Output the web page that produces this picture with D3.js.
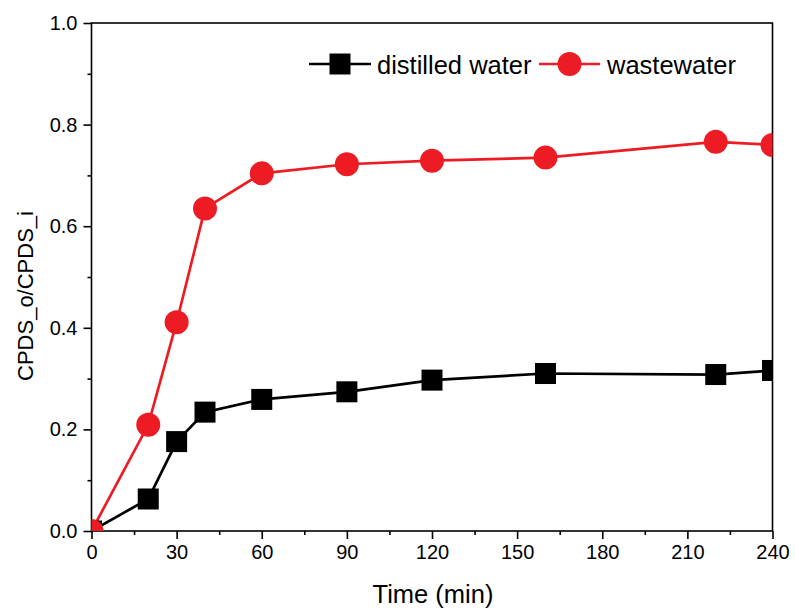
<!DOCTYPE html>
<html>
<head>
<meta charset="utf-8">
<script src="https://cdn.jsdelivr.net/npm/d3@7/dist/d3.min.js"></script>
<style>
  html, body { margin: 0; padding: 0; background: #fff; }
  svg { display: block; font-family: "Liberation Sans", Arial, sans-serif; }
</style>
</head>
<body>
<svg id="chart" width="795" height="612"></svg>
<script>
// ---- data ----
const times = [0, 20, 30, 40, 60, 90, 120, 160, 220, 240];
const distilledWater = [0.0, 0.063, 0.176, 0.234, 0.259, 0.274, 0.297, 0.310, 0.308, 0.316];
const wastewater = [0.0, 0.209, 0.411, 0.635, 0.704, 0.722, 0.729, 0.735, 0.766, 0.760];
const xTicks = [0, 30, 60, 90, 120, 150, 180, 210, 240];
const yTicks = [0.0, 0.2, 0.4, 0.6, 0.8, 1.0];
const seriesNames = ["distilled water", "wastewater"];

// ---- layout ----
const svg = d3.select("#chart");
const pL = 91.5, pR = 772.5, pT = 23, pB = 531;
const x = d3.scaleLinear().domain([0, 240]).range([pL, pR]);
const y = d3.scaleLinear().domain([0, 1]).range([pB, pT]);
const red = "#ED1C24";

svg.append("defs").append("clipPath").attr("id", "clip")
  .append("rect").attr("x", pL).attr("y", pT).attr("width", pR - pL).attr("height", pB - pT);

const xAxis = d3.axisBottom(x).tickValues(xTicks).tickSize(8).tickPadding(6).tickFormat(d3.format("d"));
const xMinor = d3.axisBottom(x).tickValues(d3.range(15, 240, 30)).tickSize(4).tickFormat("");
const yAxis = d3.axisLeft(y).tickValues(yTicks).tickSize(8).tickPadding(6).tickFormat(d3.format(".1f"));
const yMinor = d3.axisLeft(y).tickValues(d3.range(0.1, 1.0, 0.2)).tickSize(4).tickFormat("");

function style(g) {
  g.select(".domain").remove();
  g.selectAll("line").attr("stroke", "#000").attr("stroke-width", 1.6);
  g.selectAll("text").attr("font-size", 20).attr("fill", "#000").attr("font-family", "Liberation Sans, Arial, sans-serif");
}
svg.append("g").attr("transform", `translate(0,${pB})`).call(xAxis).call(style);
svg.append("g").attr("transform", `translate(0,${pB})`).call(xMinor).call(style);
svg.append("g").attr("transform", `translate(${pL},0)`).call(yAxis).call(style);
svg.append("g").attr("transform", `translate(${pL},0)`).call(yMinor).call(style);

svg.append("rect").attr("x", pL).attr("y", pT).attr("width", pR - pL).attr("height", pB - pT)
  .attr("fill", "none").attr("stroke", "#000").attr("stroke-width", 1.6);

svg.append("text").attr("x", 433).attr("y", 603).attr("text-anchor", "middle")
  .attr("font-size", 25.5).text("Time (min)");
svg.append("text").attr("transform", "translate(33,296) rotate(-90)").attr("text-anchor", "middle")
  .attr("font-size", 22).text("CPDS_o/CPDS_i");

const plot = svg.append("g").attr("clip-path", "url(#clip)");
const line = d3.line().x((d, i) => x(times[i])).y(d => y(d));

plot.append("path").datum(distilledWater).attr("d", line)
  .attr("fill", "none").attr("stroke", "#000").attr("stroke-width", 2.7);
plot.append("path").datum(wastewater).attr("d", line)
  .attr("fill", "none").attr("stroke", red).attr("stroke-width", 2.7);

const sq = 21;
plot.selectAll("rect.dw").data(distilledWater).enter().append("rect")
  .attr("x", (d, i) => x(times[i]) - sq / 2).attr("y", d => y(d) - sq / 2)
  .attr("width", sq).attr("height", sq).attr("fill", "#000");
plot.selectAll("circle.ww").data(wastewater).enter().append("circle")
  .attr("cx", (d, i) => x(times[i])).attr("cy", d => y(d)).attr("r", 12).attr("fill", red);

const lg = svg.append("g");
const ly = 64;
lg.append("line").attr("x1", 309).attr("x2", 371).attr("y1", ly).attr("y2", ly).attr("stroke", "#000").attr("stroke-width", 2.7);
lg.append("rect").attr("x", 340 - sq / 2).attr("y", ly - sq / 2).attr("width", sq).attr("height", sq).attr("fill", "#000");
lg.append("text").attr("x", 377).attr("y", 74).attr("font-size", 25.5).text(seriesNames[0]);
lg.append("line").attr("x1", 539).attr("x2", 600).attr("y1", ly).attr("y2", ly).attr("stroke", red).attr("stroke-width", 2.7);
lg.append("circle").attr("cx", 569.5).attr("cy", ly).attr("r", 12).attr("fill", red);
lg.append("text").attr("x", 607).attr("y", 74).attr("font-size", 25.5).text(seriesNames[1]);
</script>
</body>
</html>
